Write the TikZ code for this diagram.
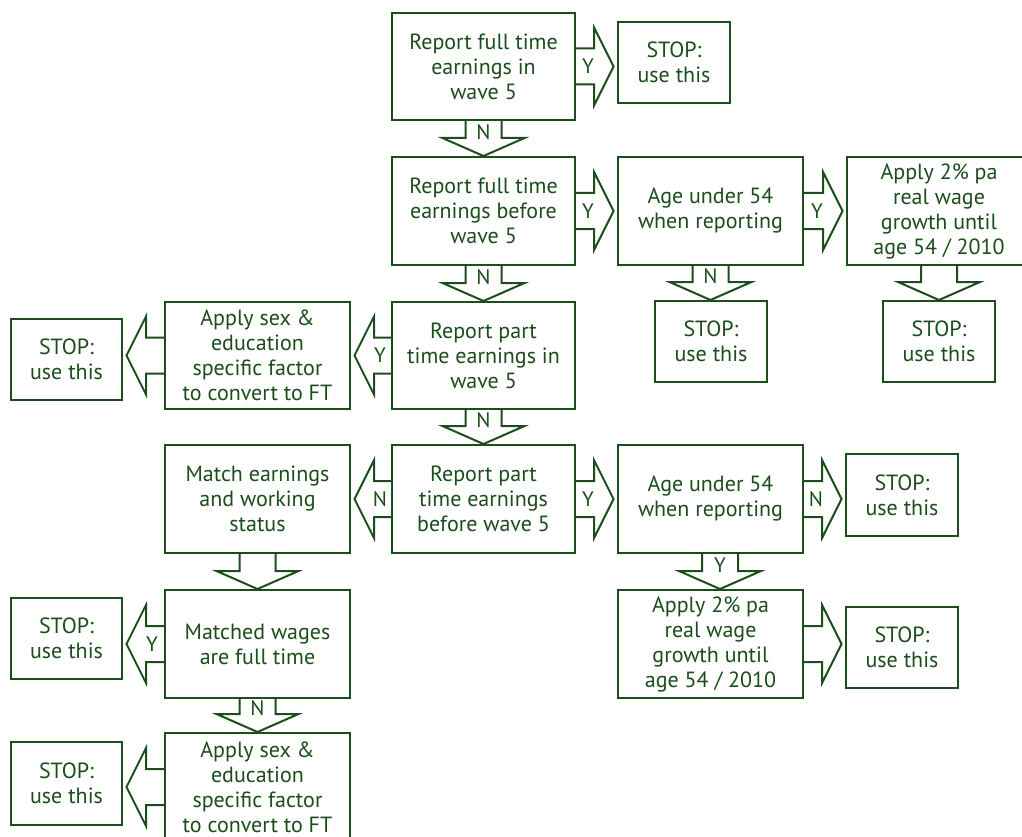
\documentclass[tikz,border=0pt]{standalone}
\usepackage{fontspec}
\setmainfont{PT Sans}
\usetikzlibrary{calc}
\definecolor{fgreen}{RGB}{28,78,28}

\tikzset{
  x=1pt, y=-1pt,
  box/.style={draw=fgreen, line width=2pt, text=fgreen, align=center,
    font=\fontsize{22}{25}\selectfont, inner sep=0pt},
  blk/.style={draw=fgreen, line width=2pt, line join=miter, line cap=butt},
  lbl/.style={text=fgreen, font=\fontsize{21}{24}\selectfont, inner sep=0pt}
}

% box given by its corners: name, x1, y1, x2, y2, text
\newcommand\bx[6]{%
  \node[box, minimum width={#4-#2}, minimum height={#5-#3}] (#1)
    at ({(#2+#4)/2},{(#3+#5)/2}) {#6};}

% block arrow pointing right, from #1 to #2, label #3
\newcommand\arrR[3]{%
  \draw[blk] let \p1=(#1.east), \p2=(#2.west) in
    (\x1,\y1+18pt) -- (\x2-23pt,\y1+18pt) -- (\x2-23pt,\y1+39pt)
    -- (\x2-3.5pt,\y1) -- (\x2-23pt,\y1-39pt) -- (\x2-23pt,\y1-18pt)
    -- (\x1,\y1-18pt)
    node[lbl] at (\x2-29pt,\y1) {#3};}

% block arrow pointing left
\newcommand\arrL[3]{%
  \draw[blk] let \p1=(#1.west), \p2=(#2.east) in
    (\x1,\y1+18pt) -- (\x2+23pt,\y1+18pt) -- (\x2+23pt,\y1+39pt)
    -- (\x2+3.5pt,\y1) -- (\x2+23pt,\y1-39pt) -- (\x2+23pt,\y1-18pt)
    -- (\x1,\y1-18pt)
    node[lbl] at (\x2+29pt,\y1) {#3};}

% block arrow pointing down, optional horizontal offset
\newcommand\arrD[4][0pt]{%
  \draw[blk] let \p1=(#2.south), \p2=(#3.north) in
    (\x1+#1-18pt,\y1) -- (\x1+#1-18pt,\y2+18pt) -- (\x1+#1-41pt,\y2+18pt)
    -- (\x1+#1,\y2) -- (\x1+#1+41pt,\y2+18pt) -- (\x1+#1+18pt,\y2+18pt)
    -- (\x1+#1+18pt,\y1)
    node[lbl] at (\x1+#1,\y2+24pt) {#4};}

\begin{document}
\begin{tikzpicture}
\fill[white] (0,0) rectangle (1022,837);
\useasboundingbox (0,0) rectangle (1022,837);

% main column
\bx{b1}{392}{13}{575}{120}{Report full time\\earnings in\\wave 5}
\bx{b2}{392}{157}{575}{265}{Report full time\\earnings before\\wave 5}
\bx{b3}{392}{302}{575}{409}{Report part\\time earnings in\\wave 5}
\bx{b4}{392}{445}{575}{553}{Report part\\time earnings\\before wave 5}

% right-hand branches
\bx{s1}{618}{22}{730}{103}{STOP:\\use this}
\bx{a1}{618}{157}{803}{265}{Age under 54\\when reporting}
\bx{g1}{847}{157}{1031}{265}{Apply 2\% pa\\real wage\\growth until\\age 54 / 2010}
\bx{s2}{655}{301}{767}{382}{STOP:\\use this}
\bx{s3}{883}{301}{995}{382}{STOP:\\use this}
\bx{a2}{618}{445}{803}{553}{Age under 54\\when reporting}
\bx{s5}{846}{454}{958}{536}{STOP:\\use this}
\bx{g2}{618}{590}{803}{698}{Apply 2\% pa\\real wage\\growth until\\age 54 / 2010}
\bx{s6}{846}{607}{958}{688}{STOP:\\use this}

% left-hand branches
\bx{f1}{165}{302}{350}{409}{Apply sex \&\\education\\specific factor\\to convert to FT}
\bx{s4}{11}{319}{122}{400}{STOP:\\use this}
\bx{m1}{165}{445}{350}{553}{Match earnings\\and working\\status}
\bx{m2}{165}{590}{350}{698}{Matched wages\\are full time}
\bx{s7}{11}{598}{122}{679}{STOP:\\use this}
\bx{f2}{165}{733}{350}{841}{Apply sex \&\\education\\specific factor\\to convert to FT}
\bx{s8}{11}{742}{122}{825}{STOP:\\use this}

% connectors
\arrR{b1}{s1}{Y}
\arrD{b1}{b2}{N}
\arrR{b2}{a1}{Y}
\arrR{a1}{g1}{Y}
\arrD{a1}{s2}{N}
\arrD{g1}{s3}{}
\arrD{b2}{b3}{N}
\arrL{b3}{f1}{Y}
\arrL{f1}{s4}{}
\arrD{b3}{b4}{N}
\arrL{b4}{m1}{N}
\arrR{b4}{a2}{Y}
\arrR{a2}{s5}{N}
\arrD[9.5pt]{a2}{g2}{Y}
\arrR{g2}{s6}{}
\arrD{m1}{m2}{}
\arrL{m2}{s7}{Y}
\arrD{m2}{f2}{N}
\arrL{f2}{s8}{}
\end{tikzpicture}
\end{document}
